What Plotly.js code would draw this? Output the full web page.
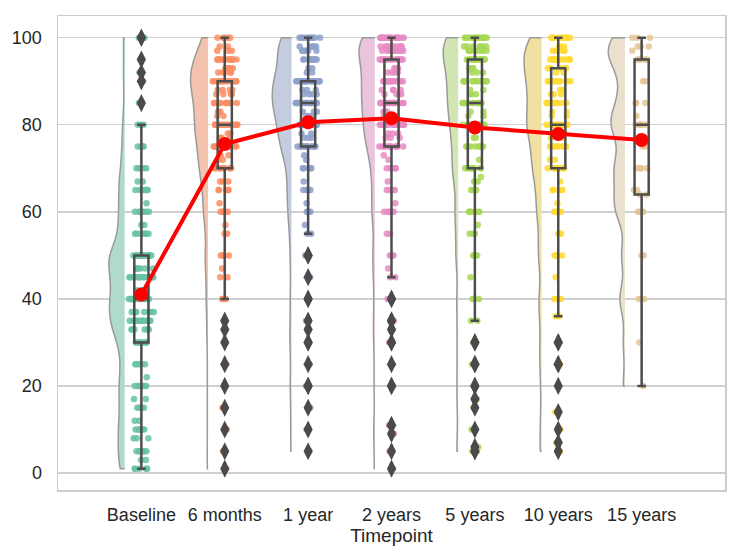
<!DOCTYPE html>
<html><head><meta charset="utf-8">
<script src="https://cdn.plot.ly/plotly-3.0.1.min.js"></script>
<style>html,body{margin:0;padding:0;background:#fff}#chart{width:744px;height:558px}</style>
</head><body><div id="chart"></div>
<script>
const categories = ['Baseline', '6 months', '1 year', '2 years', '5 years', '10 years', '15 years'];

// Scores observed at each timepoint (value, number of respondents)
const baselineValues = [1,3,5,8,10,12,15,17,20,22,25,30,33,35,37,40,42,45,47,50,55,57,60,62,65,67,70,75,80,85,90,92,95,100];
const baselineCounts = [5,2,6,3,6,2,5,2,7,1,5,8,6,12,8,16,3,14,6,22,7,2,7,1,7,2,5,4,3,1,1,1,1,2];

const month6Values = [1,5,10,15,20,25,30,33,35,40,45,47,50,55,57,60,62,65,67,70,72,73,75,77,78,80,82,83,85,87,88,90,92,93,95,97,98,100];
const month6Counts = [1,1,1,1,1,1,1,1,1,3,2,1,4,2,1,6,1,5,3,9,2,2,10,3,2,14,2,3,12,4,4,16,5,5,12,3,2,5];

const year1Values = [5,10,15,20,25,30,33,35,40,45,50,55,57,60,62,65,67,70,72,73,75,77,78,80,82,83,85,87,88,90,92,93,95,97,98,100];
const year1Counts = [1,1,1,2,1,2,1,1,2,1,2,2,1,4,1,5,1,5,1,1,12,3,2,14,3,3,20,4,3,20,2,2,10,6,5,10];

const year2Values = [1,5,9,11,20,25,30,33,35,40,45,47,50,55,60,62,65,67,70,72,73,75,77,78,80,82,83,85,87,88,90,92,93,95,97,98,100];
const year2Counts = [1,1,1,2,2,1,2,1,2,2,2,1,4,2,6,1,4,1,6,1,1,12,3,3,16,3,3,18,4,4,17,4,3,16,9,10,18];

const year5Values = [5,6,10,15,17,20,25,30,35,40,45,50,55,57,60,65,67,68,70,72,75,77,80,82,83,85,87,88,90,92,93,95,97,98,100];
const year5Counts = [2,1,1,1,1,2,2,2,2,3,1,5,3,1,6,3,2,1,9,1,9,2,12,2,2,14,3,2,14,3,3,15,8,7,16];

const year10Values = [5,7,10,14,20,25,30,36,40,45,50,55,60,62,65,67,70,72,75,77,78,80,82,83,85,87,88,90,92,93,95,97,98,100];
const year10Counts = [1,1,1,1,1,2,2,2,3,1,4,3,5,1,5,1,9,2,9,2,1,14,2,2,10,3,2,11,2,5,12,5,3,10];

const year15Values = [20,30,40,50,60,64,65,70,75,80,82,85,90,95,97,98,100];
const year15Counts = [1,1,3,2,4,2,2,5,2,6,1,3,2,5,1,3,3];

// Mean score per timepoint (red line)
const meanScores = [41.0, 75.6, 80.6, 81.5, 79.4, 77.9, 76.5];

function expand(vals, counts) {
  const out = [];
  vals.forEach((v, i) => { for (let k = 0; k < counts[i]; k++) out.push(v); });
  return out;
}
const samples = [
  expand(baselineValues, baselineCounts),
  expand(month6Values, month6Counts),
  expand(year1Values, year1Counts),
  expand(year2Values, year2Counts),
  expand(year5Values, year5Counts),
  expand(year10Values, year10Counts),
  expand(year15Values, year15Counts)
];
const positions = categories.map((c, i) => i);

const pointColors = ['#66c2a5','#fc8d62','#8da0cb','#e78ac3','#a6d854','#ffd92f','#e5c494'];
const violinFills = ['#b0dbcb','#f3c3ae','#c4cce0','#e9c4dc','#d2e6b4','#f0e1a3','#ebe0ce'];
const violinWidths = [0.38, 0.42, 0.46, 0.38, 0.36, 0.42, 0.40];

const traces = [];
samples.forEach((s, i) => {
  traces.push({
    type: 'violin', y: s, x0: positions[i] - 0.2, side: 'negative',
    width: violinWidths[i], scalemode: 'width', spanmode: 'hard', bandwidth: 3.2,
    fillcolor: violinFills[i], line: {color: '#9a9a9a', width: 1.5},
    points: false, box: {visible: false}, meanline: {visible: false},
    hoverinfo: 'skip', showlegend: false
  });
});
samples.forEach((s, i) => {
  traces.push({
    type: 'box', y: s, x0: positions[i], width: 0.3,
    boxpoints: 'all', jitter: 1, pointpos: 0,
    fillcolor: 'rgba(0,0,0,0)', line: {width: 0, color: 'rgba(0,0,0,0)'},
    marker: {color: pointColors[i], size: 6.5, opacity: 0.85},
    hoverinfo: 'skip', showlegend: false
  });
});
samples.forEach((s, i) => {
  traces.push({
    type: 'box', y: s, x0: positions[i], width: 0.17,
    boxpoints: 'outliers', whiskerwidth: 0.6,
    fillcolor: 'rgba(0,0,0,0)', line: {color: '#4d4d4d', width: 2.5},
    marker: {symbol: 'diamond-tall', color: '#4a4a4a', size: 13, line: {width: 0}},
    showlegend: false
  });
});
traces.push({
  type: 'scatter', x: positions, y: meanScores, mode: 'lines+markers',
  line: {color: '#ff0000', width: 4}, marker: {color: '#ff0000', size: 14},
  showlegend: false
});

const layout = {
  width: 744, height: 558,
  margin: {l: 58, r: 19, t: 16, b: 68},
  paper_bgcolor: '#ffffff', plot_bgcolor: '#ffffff',
  font: {family: 'Arial, "Liberation Sans", sans-serif', size: 18, color: '#262626'},
  showlegend: false, boxmode: 'overlay', violinmode: 'overlay',
  xaxis: {
    range: [-1, 7], tickvals: positions, ticktext: categories,
    showgrid: false, zeroline: false, showline: true, mirror: true,
    linecolor: '#cccccc', linewidth: 1.5, ticks: '', ticklabelstandoff: 8,
    title: {text: 'Timepoint', font: {size: 19}, standoff: 4}
  },
  yaxis: {
    range: [-3.9, 105.0], tickvals: [0, 20, 40, 60, 80, 100],
    showgrid: true, gridcolor: '#d0d0d0', gridwidth: 1.3, zeroline: false,
    showline: true, mirror: true, linecolor: '#cccccc', linewidth: 1.5,
    ticks: '', ticklabelstandoff: 11
  }
};

Plotly.newPlot('chart', traces, layout, {displayModeBar: false, staticPlot: true});
</script>
</body></html>
